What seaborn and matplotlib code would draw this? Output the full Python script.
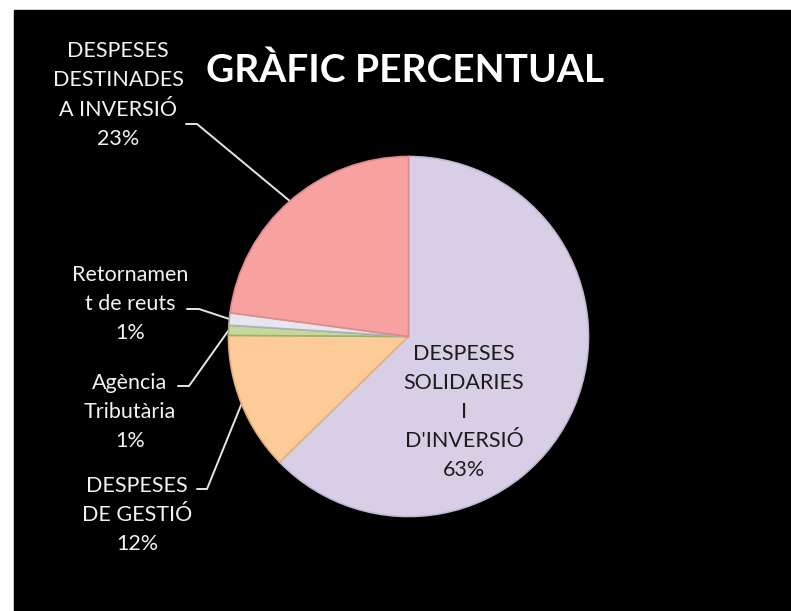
import matplotlib
matplotlib.use('Agg')

import numpy as np
import matplotlib.pyplot as plt
from matplotlib.patches import Rectangle
import seaborn as sns


# ── Data ─────────────────────────────────────────────────────────────────────

CATEGORIES = [
    'DESPESES\nSOLIDARIES\nI\nD\'INVERSIÓ',
    'DESPESES\nDE GESTIÓ',
    'Agència\nTributària',
    'Retornamen\nt de reuts',
    'DESPESES\nDESTINADES\nA INVERSIÓ',
]
VALUES = [62.7, 12.4, 0.9, 1.1, 22.9]
COLORS = ['#d8cfe6', '#fccb98', '#c4d89a', '#e6e6ee', '#f8a1a1']
EDGES  = ['#c2b8d4', '#e0b07c', '#9bb072', '#b0b0bc', '#dc8a8a']
TITLE  = 'GRÀFIC PERCENTUAL'

# label block centre (px), leader dash (x0, x1, y) in px; None = inside label
LABEL_POS = [
    (464, 412, None),
    (137, 515, (197, 207, 489)),
    (130, 412, (178, 189, 386)),
    (130, 304, (187, 199, 309)),
    (118, 95,  (186, 197, 124)),
]

W, H   = 791, 611
CENTER = (408.5, H - 336.5)
RADIUS = 180

sns.set_theme(style='dark')
plt.rcParams['font.family'] = ['Lato', 'DejaVu Sans']


# ── Figure ───────────────────────────────────────────────────────────────────

fig = plt.figure(figsize=(W / 100, H / 100), dpi=100, facecolor='white')
ax = fig.add_axes([0, 0, 1, 1])
ax.add_patch(Rectangle((14, 0), W - 14, H - 10, color='black', zorder=0))

wedges, _ = ax.pie(
    VALUES, colors=COLORS, startangle=90, counterclock=False,
    center=CENTER, radius=RADIUS, frame=True,
    wedgeprops=dict(linewidth=1.2),
)
for w, ec in zip(wedges, EDGES):
    w.set_edgecolor(ec)
    w.set_zorder(2)

ax.set_xlim(0, W)
ax.set_ylim(0, H)
ax.set_aspect('equal')
ax.axis('off')

total = sum(VALUES)
for w, cat, val, (lx, ly, dash) in zip(wedges, CATEGORIES, VALUES, LABEL_POS):
    text = f'{cat}\n{round(val / total * 100):.0f}%'
    if dash is None:
        ax.text(lx, H - ly, text, ha='center', va='center', fontsize=15.5,
                color='#1c1c1c', linespacing=1.55, zorder=3)
        continue
    ax.text(lx, H - ly, text, ha='center', va='center', fontsize=15.5,
            color='#f2f2f2', linespacing=1.58, zorder=3)
    mid = np.deg2rad((w.theta1 + w.theta2) / 2)
    tx = CENTER[0] + RADIUS * np.cos(mid)
    ty = CENTER[1] + RADIUS * np.sin(mid)
    x0, x1, y = dash
    ax.plot([x0, x1, tx], [H - y, H - y, ty], color='#e6e6e6', lw=1.4, zorder=1.5)

ax.text(405, H - 82, TITLE, ha='center', va='baseline', fontsize=28,
        fontweight='bold', color='white', zorder=3)

fig.savefig('out.png', dpi=100, facecolor='white')
